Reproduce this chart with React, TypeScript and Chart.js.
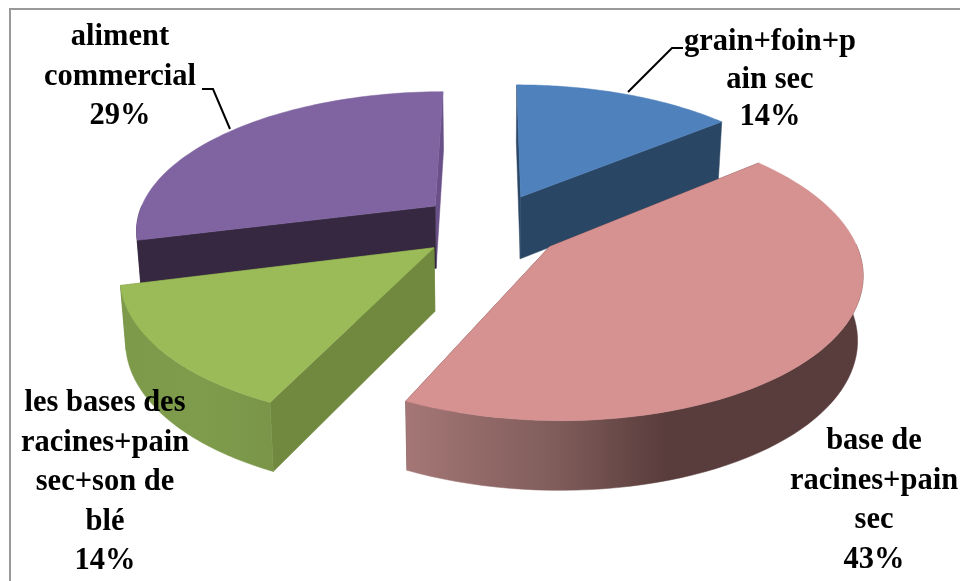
import React, { useEffect, useRef } from "react";
import { Chart, registerables } from "chart.js";

Chart.register(...registerables);

// Feeding regimes and their share of the total, clockwise from twelve o'clock.
const categories = [
  "grain+foin+pain sec",
  "base de racines+pain sec",
  "les bases des racines+pain sec+son de blé",
  "aliment commercial",
];
const shares = [14, 43, 14, 29];

// Wrapped label text for each category.
const labelLines = [
  ["grain+foin+p", "ain sec"],
  ["base de", "racines+pain", "sec"],
  ["les bases des", "racines+pain", "sec+son de", "blé"],
  ["aliment", "commercial"],
];

const topColors = ["#4f81bd", "#d69191", "#9bbb59", "#8064a2"];
const startWallColors = ["#2a4665", "#5a3c3c", "#71893f", "#352840"];
const endWallColors = ["#2a4665", "#5a3c3c", "#71893f", "#6a5088"];
const rimStops: [number, string][][] = [
  [[0, "#2a4665"], [1, "#2a4665"]],
  [[0, "#a47776"], [0.33, "#7f5c5a"], [0.57, "#593c3c"], [1, "#593c3c"]],
  [[0, "#7c9a49"], [0.5, "#7f9c4c"], [1, "#7a9548"]],
  [[0, "#352840"], [1, "#352840"]],
];

// Label block centres, first baseline and line spacing.
const labelAnchors = [
  { x: 770, y: 50, lead: 37.5 },
  { x: 874, y: 449, lead: 39.7 },
  { x: 105, y: 411, lead: 39.5 },
  { x: 120, y: 45, lead: 39.5 },
];
const leaders = [
  [[628, 92], [672, 48], [683, 48]],
  null,
  null,
  [[230, 129], [213, 89], [202, 89]],
];

// Perspective model for the tilted, exploded disc.
const X_STRETCH = 1.33;
const Y_STRETCH = 0.613;
const PERSPECTIVE = 0.16;
const EXPLODE = 0.24;
const THICKNESS = 63;
const BASE_SHRINK = 0.985;
const PAINT_ORDER = [0, 3, 2, 1];

const FONT = 'bold 30.5px "Liberation Serif", serif';

type Face = { v: number; paint: () => void };

const tiltedPie = {
  id: "tiltedPie",
  beforeDraw(chart: any) {
    const { ctx, width, height } = chart;
    ctx.save();
    ctx.fillStyle = "#ffffff";
    ctx.fillRect(0, 0, width, height);
    ctx.strokeStyle = "#999999";
    ctx.lineWidth = 2;
    ctx.strokeRect(10, 9, width + 40, height + 40);
    ctx.restore();
  },
  beforeDatasetDraw(chart: any) {
    const ctx: CanvasRenderingContext2D = chart.ctx;
    const arcs = chart.getDatasetMeta(0).data;

    for (const i of PAINT_ORDER) {
      const arc = arcs[i];
      const cx = arc.x;
      const cy = arc.y;
      const rx = arc.outerRadius * X_STRETCH;
      const ry = arc.outerRadius * Y_STRETCH;
      const mid = (arc.startAngle + arc.endAngle) / 2;
      const ox = EXPLODE * Math.cos(mid);
      const oy = EXPLODE * Math.sin(mid);

      const world = (a: number, r: number) => [ox + r * Math.cos(a), oy + r * Math.sin(a)];
      const top = (a: number, r: number) => {
        const [u, v] = world(a, r);
        const s = 1 / (1 - PERSPECTIVE * v);
        return [cx + rx * u * s, cy + ry * v * s];
      };
      const base = (a: number, r: number) => {
        const [u, v] = world(a, r);
        const s = 1 / (1 - PERSPECTIVE * v);
        return [
          cx + rx * u * s * BASE_SHRINK,
          cy + ry * v * s + THICKNESS * Math.sqrt(s),
        ];
      };

      const steps = 72;
      const angles: number[] = [];
      for (let k = 0; k <= steps; k++) {
        angles.push(arc.startAngle + ((arc.endAngle - arc.startAngle) * k) / steps);
      }

      const fillPath = (pts: number[][], fill: string | CanvasGradient) => {
        ctx.beginPath();
        pts.forEach((p, n) => (n ? ctx.lineTo(p[0], p[1]) : ctx.moveTo(p[0], p[1])));
        ctx.closePath();
        ctx.fillStyle = fill;
        ctx.fill();
        ctx.strokeStyle = fill;
        ctx.lineWidth = 0.5;
        ctx.stroke();
      };

      const radialWall = (a: number, color: string): Face => ({
        v: (world(a, 0)[1] + world(a, 1)[1]) / 2,
        paint: () => fillPath([top(a, 0), top(a, 1), base(a, 1), base(a, 0)], color),
      });

      // Only the part of the rim that faces the viewer is painted.
      const frontAngles = angles.filter((a) => Math.sin(a) > -0.02);
      const rim: Face = {
        v: world(mid, 1)[1],
        paint: () => {
          if (frontAngles.length < 2) return;
          const upper = frontAngles.map((a) => top(a, 1));
          const lower = frontAngles.map((a) => base(a, 1)).reverse();
          const xs = upper.concat(lower).map((p) => p[0]);
          const fromX = Math.min(...xs);
          const toX = Math.max(...xs);
          const grad = ctx.createLinearGradient(fromX, 0, toX, 0);
          rimStops[i].forEach(([o, c]) => grad.addColorStop(o, c));
          fillPath(upper.concat(lower), grad);
        },
      };

      [radialWall(arc.startAngle, startWallColors[i]), radialWall(arc.endAngle, endWallColors[i]), rim]
        .sort((a, b) => a.v - b.v)
        .forEach((f) => f.paint());

      fillPath([top(0, 0), ...angles.map((a) => top(a, 1))], topColors[i]);
    }
    return false;
  },
  afterDatasetsDraw(chart: any) {
    const ctx: CanvasRenderingContext2D = chart.ctx;
    ctx.save();

    ctx.strokeStyle = "#000000";
    ctx.lineWidth = 2;
    leaders.forEach((pts) => {
      if (!pts) return;
      ctx.beginPath();
      pts.forEach((p, n) => (n ? ctx.lineTo(p[0], p[1]) : ctx.moveTo(p[0], p[1])));
      ctx.stroke();
    });

    ctx.fillStyle = "#000000";
    ctx.font = FONT;
    ctx.textAlign = "center";
    ctx.textBaseline = "alphabetic";
    labelLines.forEach((lines, i) => {
      const { x, y, lead } = labelAnchors[i];
      [...lines, `${shares[i]}%`].forEach((line, n) => ctx.fillText(line, x, y + n * lead));
    });
    ctx.restore();
  },
};

export default function App() {
  const ref = useRef<HTMLCanvasElement>(null);

  useEffect(() => {
    document.body.style.margin = "0";
    const chart = new Chart(ref.current!, {
      type: "pie",
      data: {
        labels: categories,
        datasets: [{ data: shares, backgroundColor: topColors, borderWidth: 0 }],
      },
      options: {
        animation: false,
        responsive: false,
        events: [],
        layout: { padding: { left: 22, bottom: 129 } },
        plugins: { legend: { display: false }, tooltip: { enabled: false } },
      },
      plugins: [tiltedPie],
    });
    return () => chart.destroy();
  }, []);

  return <canvas ref={ref} width={960} height={581} style={{ display: "block" }} />;
}
